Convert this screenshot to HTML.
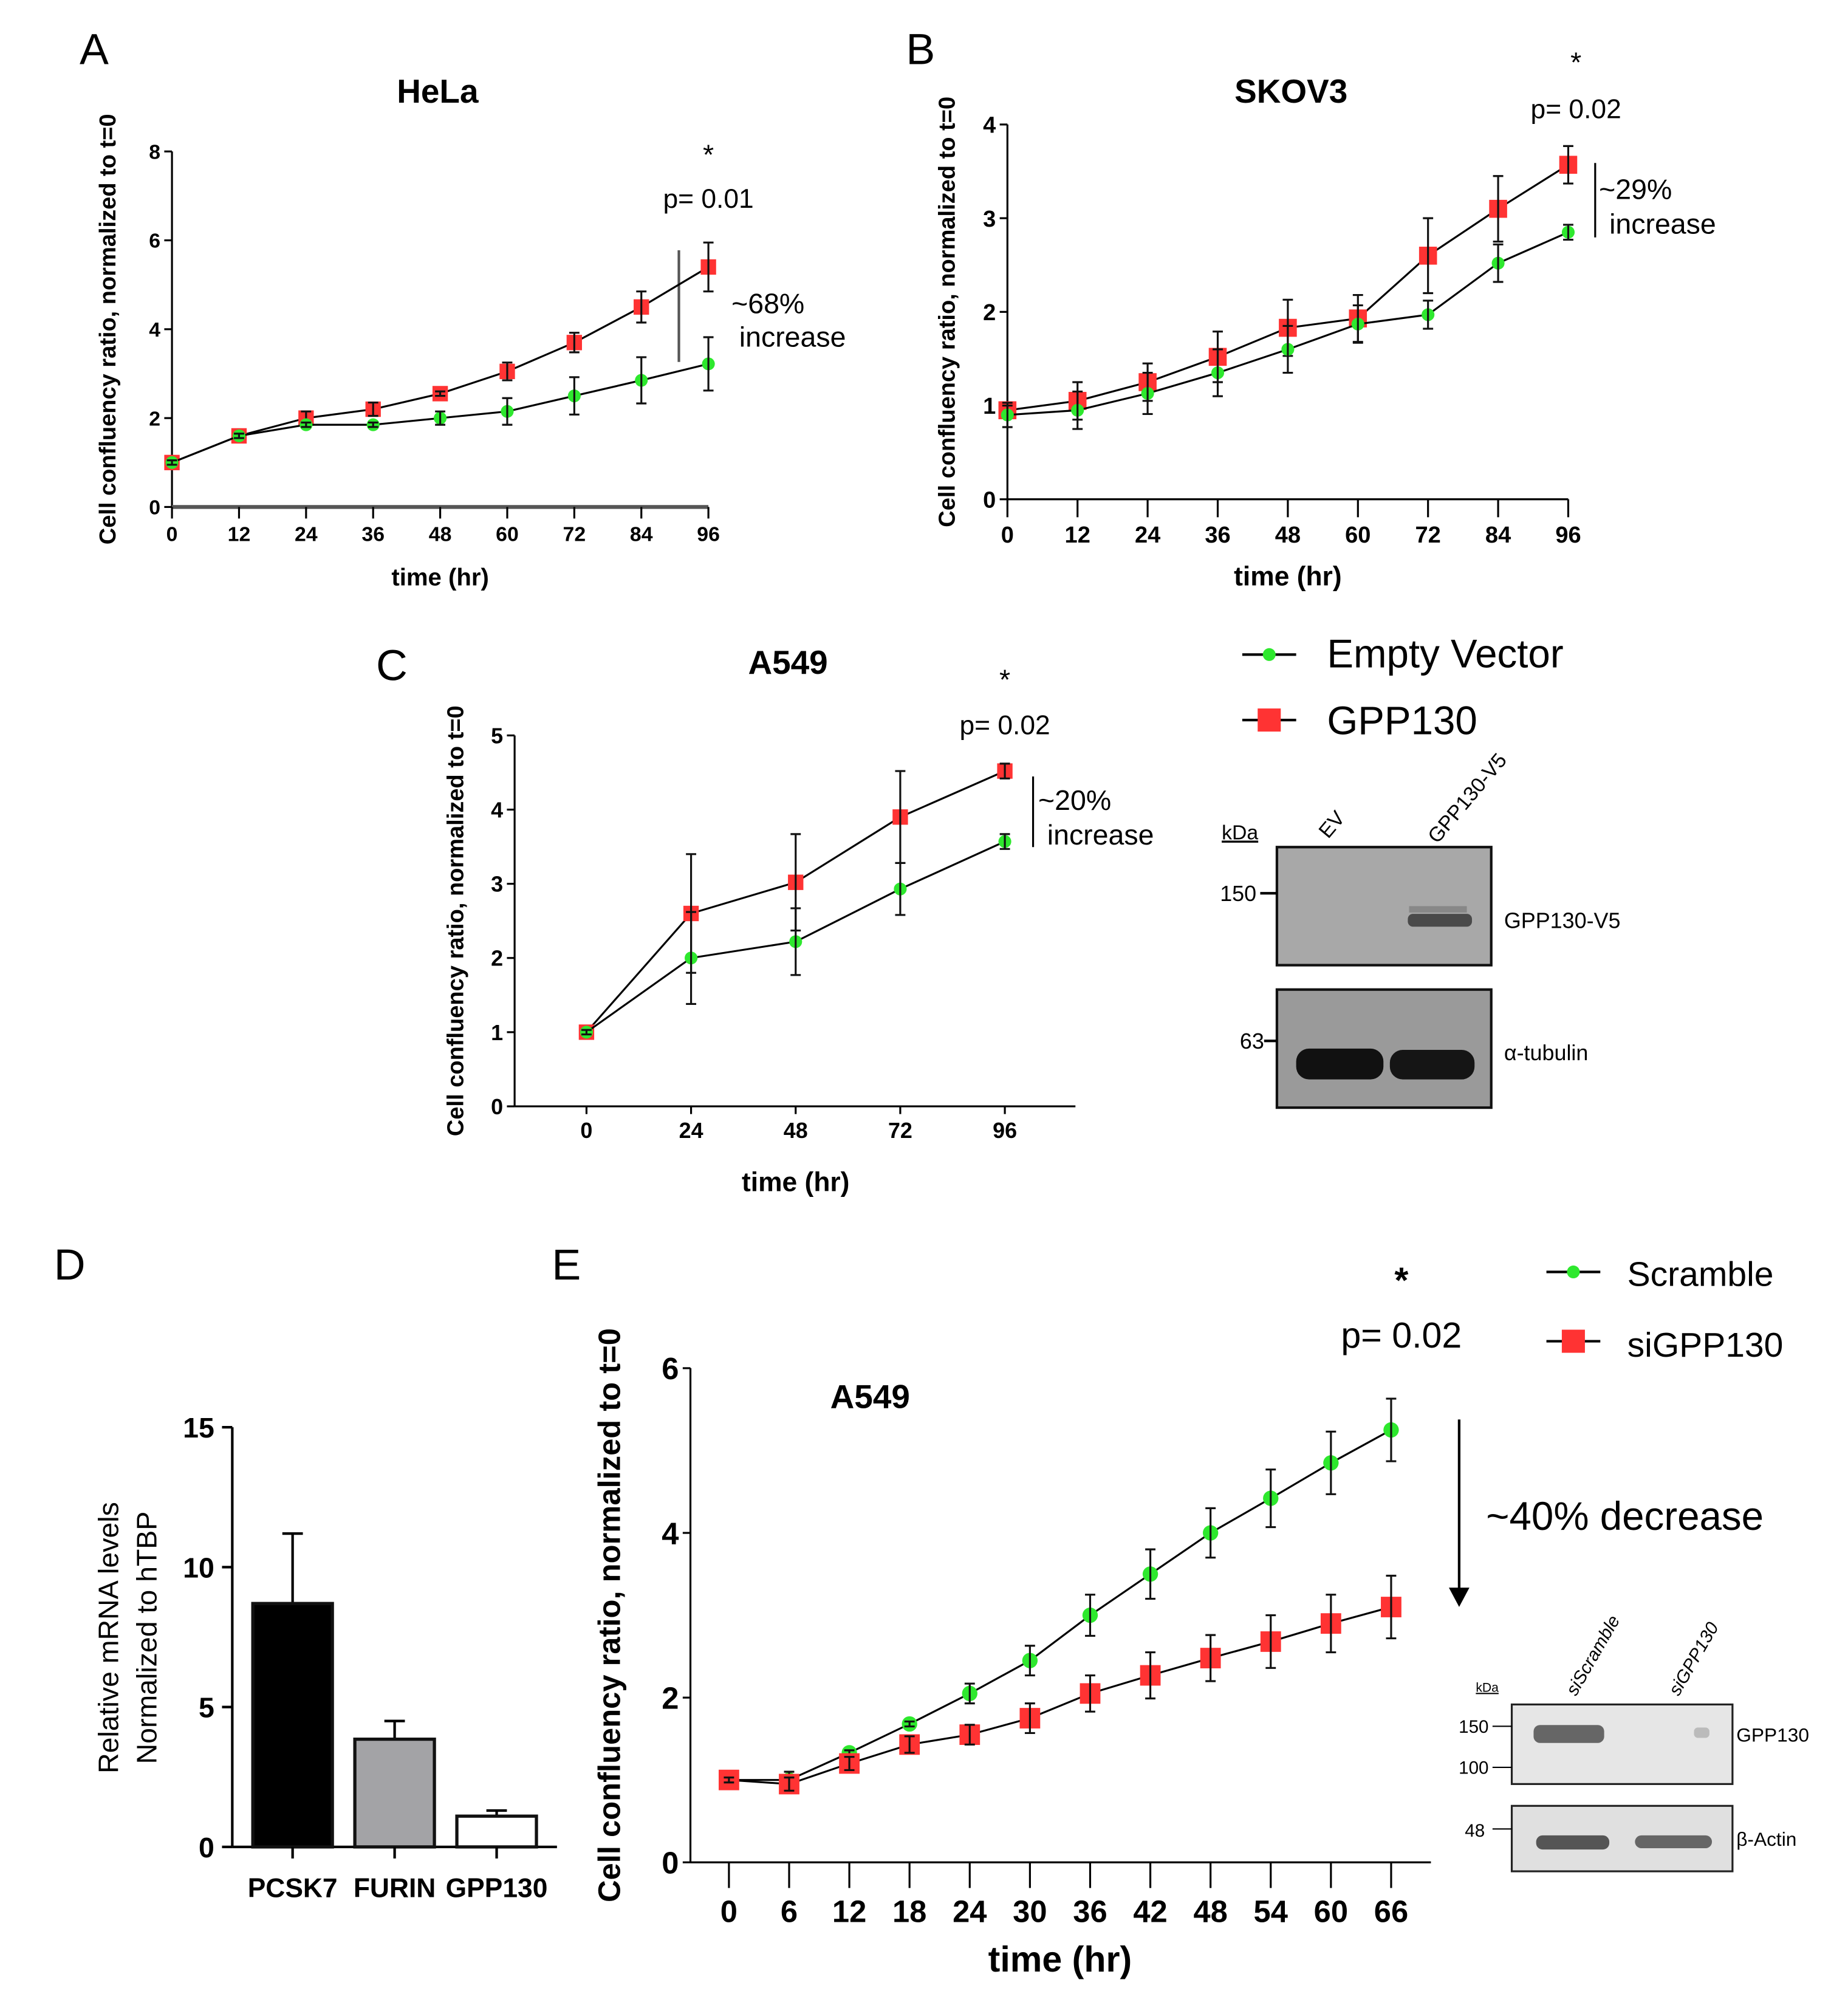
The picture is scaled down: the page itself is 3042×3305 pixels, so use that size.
<!DOCTYPE html>
<html><head><meta charset="utf-8"><style>
html,body{margin:0;padding:0;background:#fff}
svg{display:block}
text{font-family:"Liberation Sans Narrow","Liberation Sans",sans-serif;fill:#000}
.b{font-weight:bold}
.w{font-family:"Liberation Sans",sans-serif}
</style></head><body>
<svg id="fig" xmlns="http://www.w3.org/2000/svg" width="3042" height="3305" viewBox="0 0 1440 1564.5">
<rect width="1440" height="1564.5" fill="#fff"/>
<g id="static">
<text x="62" y="50" font-size="34" class="w">A</text>
<text x="706" y="50" font-size="34" class="w">B</text>
<text x="293" y="530" font-size="34" class="w">C</text>
<text x="42" y="997" font-size="34" class="w">D</text>
<text x="430" y="997" font-size="34" class="w">E</text>

<text x="341" y="80" font-size="26" class="b" text-anchor="middle">HeLa</text>
<text x="1006" y="80" font-size="26" class="b" text-anchor="middle">SKOV3</text>
<text x="614" y="525" font-size="26" class="b" text-anchor="middle">A549</text>
<text x="678" y="1097" font-size="26" class="b" text-anchor="middle">A549</text>

<text x="552" y="128" font-size="22" text-anchor="middle">*</text>
<text x="552" y="162" font-size="21" text-anchor="middle">p= 0.01</text>
<line x1="529" y1="195" x2="529" y2="282" stroke="#555" stroke-width="2"/>
<text x="570" y="244" font-size="22" class="w">~68%</text>
<text x="576" y="270" font-size="22" class="w">increase</text>
<text x="1228" y="56" font-size="22" text-anchor="middle">*</text>
<text x="1228" y="92" font-size="21" text-anchor="middle">p= 0.02</text>
<line x1="1243" y1="127" x2="1243" y2="185" stroke="#000" stroke-width="1.5"/>
<text x="1246" y="155" font-size="22" class="w">~29%</text>
<text x="1254" y="182" font-size="22" class="w">increase</text>
<text x="783" y="537" font-size="22" text-anchor="middle">*</text>
<text x="783" y="572" font-size="21" text-anchor="middle">p= 0.02</text>
<line x1="805" y1="605" x2="805" y2="660" stroke="#000" stroke-width="1.5"/>
<text x="809" y="631" font-size="22" class="w">~20%</text>
<text x="816" y="658" font-size="22" class="w">increase</text>

<g>
<line x1="968" y1="510" x2="1010" y2="510" stroke="#000" stroke-width="2"/><circle cx="989" cy="510" r="5" fill="#2ee82e"/>
<text x="1034" y="520" font-size="31" class="w">Empty Vector</text></g>
<g>
<line x1="968" y1="561" x2="1010" y2="561" stroke="#000" stroke-width="2"/><rect x="980" y="552" width="18" height="18" fill="#f33"/>
<text x="1034" y="572" font-size="31" class="w">GPP130</text></g>

<g>
<text x="952" y="654" font-size="16" text-decoration="underline">kDa</text>
<text x="1035" y="654" font-size="16" transform="rotate(-50 1035 654)">EV</text>
<text x="1120" y="658" font-size="16" transform="rotate(-50 1120 658)">GPP130-V5</text>
<rect x="995" y="660" width="167" height="92" fill="#a8a8a8" stroke="#111" stroke-width="2"/>
<rect x="1097" y="712" width="50" height="10" rx="4" fill="#3a3a3a" opacity="0.85"/>
<rect x="1098" y="706" width="45" height="5" fill="#888"/>
<text x="979" y="702" font-size="17" text-anchor="end">150</text>
<line x1="982" y1="696" x2="995" y2="696" stroke="#000" stroke-width="2"/>
<text x="1172" y="723" font-size="17">GPP130-V5</text>
<rect x="995" y="771" width="167" height="92" fill="#9a9a9a" stroke="#111" stroke-width="2"/>
<rect x="1010" y="817" width="68" height="24" rx="10" fill="#111"/>
<rect x="1083" y="818" width="66" height="23" rx="10" fill="#151515"/>
<text x="985" y="817" font-size="17" text-anchor="end">63</text>
<line x1="985" y1="811" x2="995" y2="811" stroke="#000" stroke-width="2"/>
<text x="1172" y="826" font-size="17">α-tubulin</text>
</g>

<text x="1092" y="1007" font-size="28" text-anchor="middle" class="b">*</text>
<text x="1092" y="1050" font-size="28" text-anchor="middle">p= 0.02</text>
<line x1="1137" y1="1106" x2="1137" y2="1240" stroke="#000" stroke-width="2"/>
<polygon points="1129,1237 1145,1237 1137,1252" fill="#000"/>
<text x="1158" y="1192" font-size="31" class="w">~40% decrease</text>
<g>
<line x1="1205" y1="991" x2="1247" y2="991" stroke="#000" stroke-width="2"/><circle cx="1226" cy="991" r="5" fill="#2ee82e"/>
<text x="1268" y="1002" font-size="27">Scramble</text></g>
<g>
<line x1="1205" y1="1045" x2="1247" y2="1045" stroke="#000" stroke-width="2"/><rect x="1217" y="1036" width="18" height="18" fill="#f33"/>
<text x="1268" y="1057" font-size="27">siGPP130</text></g>

<g>
<text x="1150" y="1318" font-size="10" text-decoration="underline">kDa</text>
<text x="1228" y="1322" font-size="14" font-style="italic" transform="rotate(-60 1228 1322)">siScramble</text>
<text x="1308" y="1322" font-size="14" font-style="italic" transform="rotate(-60 1308 1322)">siGPP130</text>
<rect x="1178" y="1328" width="172" height="62" fill="#e6e6e6" stroke="#222" stroke-width="1.5"/>
<rect x="1195" y="1344" width="55" height="14" rx="5" fill="#666"/>
<rect x="1320" y="1346" width="12" height="8" rx="3" fill="#bbb"/>
<text x="1160" y="1350" font-size="14" text-anchor="end">150</text><line x1="1163" y1="1345" x2="1178" y2="1345" stroke="#000"/>
<text x="1160" y="1382" font-size="14" text-anchor="end">100</text><line x1="1163" y1="1377" x2="1178" y2="1377" stroke="#000"/>
<text x="1353" y="1357" font-size="15">GPP130</text>
<rect x="1178" y="1407" width="172" height="51" fill="#e0e0e0" stroke="#222" stroke-width="1.5"/>
<rect x="1197" y="1430" width="57" height="11" rx="5" fill="#555"/>
<rect x="1274" y="1430" width="60" height="10" rx="5" fill="#666"/>
<text x="1157" y="1431" font-size="14" text-anchor="end">48</text><line x1="1163" y1="1425" x2="1178" y2="1425" stroke="#000"/>
<text x="1353" y="1438" font-size="15">β-Actin</text>
</g>
</g>
<g id="charts"></g>
</svg>
<script>
const hoursA = [0,12,24,36,48,60,72,84,96];
const helaGpp = [1.0,1.6,2.0,2.2,2.55,3.05,3.7,4.5,5.4];
const helaGppErr = [0.05,0.05,0.15,0.15,0.05,0.2,0.22,0.35,0.55];
const helaEv = [1.0,1.6,1.85,1.85,2.0,2.15,2.5,2.85,3.22];
const helaEvErr = [0.05,0.05,0.05,0.05,0.15,0.3,0.42,0.52,0.6];
const ticksYA = [0,2,4,6,8];
const hoursB = [0,12,24,36,48,60,72,84,96];
const skovGpp = [0.95,1.05,1.25,1.52,1.83,1.93,2.6,3.1,3.57];
const skovGppErr = [0.05,0.2,0.2,0.27,0.3,0.25,0.4,0.35,0.2];
const skovEv = [0.9,0.95,1.13,1.35,1.6,1.87,1.97,2.52,2.85];
const skovEvErr = [0.13,0.2,0.22,0.25,0.25,0.2,0.15,0.2,0.08];
const ticksYB = [0,1,2,3,4];
const hoursC = [0,24,48,72,96];
const a549Gpp = [1.0,2.6,3.02,3.9,4.52];
const a549GppErr = [0.03,0.8,0.65,0.62,0.1];
const a549Ev = [1.0,2.0,2.22,2.93,3.57];
const a549EvErr = [0.03,0.62,0.45,0.35,0.1];
const ticksYC = [0,1,2,3,4,5];
const genes = ["PCSK7","FURIN","GPP130"];
const mrna = [8.7,3.85,1.1];
const mrnaErr = [2.5,0.65,0.2];
const ticksYD = [0,5,10,15];
const hoursE = [0,6,12,18,24,30,36,42,48,54,60,66];
const scramble = [1.0,1.0,1.33,1.68,2.05,2.45,3.0,3.5,4.0,4.42,4.85,5.25];
const scrambleErr = [0.02,0.1,0.03,0.03,0.12,0.18,0.25,0.3,0.3,0.35,0.38,0.38];
const siGpp = [1.0,0.95,1.2,1.43,1.55,1.75,2.05,2.27,2.48,2.68,2.9,3.1];
const siGppErr = [0.03,0.08,0.08,0.1,0.12,0.18,0.22,0.28,0.28,0.32,0.35,0.38];
const ticksYE = [0,2,4,6];

const NS="http://www.w3.org/2000/svg";
const root=document.getElementById('charts');
function mk(tag,attrs,parent){const e=document.createElementNS(NS,tag);for(const k in attrs)e.setAttribute(k,attrs[k]);(parent||root).appendChild(e);return e;}
function scale(d0,d1,r0,r1){return v=>r0+(v-d0)/(d1-d0)*(r1-r0);}

function lineChart(o){
  const g=mk('g',{});
  
  
  const sx=scale(o.xd[0],o.xd[1],o.px0,o.px1), sy=scale(o.yd[0],o.yd[1],o.py0,o.py1);
  const sw=o.sw||1.5;
  mk('line',{x1:o.axL,y1:sy(o.yd[0]),x2:o.axL,y2:sy(o.yd[1]),stroke:'#000','stroke-width':sw},g);
  mk('line',{x1:o.axL,y1:sy(0),x2:o.axR,y2:sy(0),stroke:o.xAxisColor||'#000','stroke-width':o.xsw||sw},g);
  o.yticks.forEach(t=>{
    mk('line',{x1:o.axL-6,y1:sy(t),x2:o.axL,y2:sy(t),stroke:'#000','stroke-width':sw},g);
    const tx=mk('text',{x:o.axL-9,y:sy(t)+o.fs*0.36,'font-size':o.fs,'text-anchor':'end','class':'b'},g);
    tx.textContent=t;
    
    
  });
  o.x.forEach(t=>{
    mk('line',{x1:sx(t),y1:sy(0),x2:sx(t),y2:sy(0)+o.tickLen,stroke:'#000','stroke-width':sw},g);
    const tx=mk('text',{x:sx(t),y:sy(0)+o.tickLen+o.fs*1.1,'font-size':o.fs,'text-anchor':'middle','class':'b'},g);
    tx.textContent=t;
    
    
  });
  const xt=mk('text',{x:(o.px0+o.px1)/2,y:o.xtY,'font-size':o.tfs,'text-anchor':'middle','class':'b'},g);
  xt.textContent='time (hr)';
  
  
  const yt=mk('text',{x:0,y:0,'font-size':o.yfs,'text-anchor':'middle','class':'b w',transform:`translate(${o.ytX},${(sy(o.yd[0])+sy(o.yd[1]))/2+(o.ytDy||0)}) rotate(-90)`},g);
  yt.textContent='Cell confluency ratio, normalized to t=0';
  
  
  o.series.forEach(s=>{
    const sg=mk('g',{},g);
    
    
    mk('polyline',{points:o.x.map((t,i)=>sx(t)+','+sy(s.v[i])).join(' '),fill:'none',stroke:'#000','stroke-width':1.5},sg);
    o.x.forEach((t,i)=>{
      const cx=sx(t),cy=sy(s.v[i]);
      if(s.sq){const h=o.sq;const r=mk('rect',{x:cx-h,y:cy-h,width:2*h,height:2*h,fill:'#f33'},sg);
        
        }
      else{const c=mk('circle',{cx:cx,cy:cy,r:o.cr,fill:'#2ee82e'},sg);
        
        }
      const e=s.e[i]; if(e>0.02){const y1=sy(s.v[i]+e),y2=sy(s.v[i]-e),w=4;
        mk('path',{d:`M${cx},${y1}V${y2}M${cx-w},${y1}H${cx+w}M${cx-w},${y2}H${cx+w}`,stroke:'#111','stroke-width':1.5,fill:'none'},sg);}
    });
  });
}
lineChart({name:'hela-chart',x:hoursA,xd:[0,96],yd:[0,8],px0:134,px1:552,py0:395,py1:118,axL:134,axR:552,yticks:ticksYA,fs:16,tfs:19,yfs:18,tickLen:9,xtY:456,ytX:90,sq:6,cr:5,xAxisColor:'#555',xsw:3,
  series:[{name:'hela-gpp130',v:helaGpp,e:helaGppErr,sq:true},{name:'hela-empty-vector',v:helaEv,e:helaEvErr}]});
lineChart({name:'skov3-chart',x:hoursB,xd:[0,96],yd:[0,4],px0:785,px1:1222,py0:389,py1:97,axL:785,axR:1222,yticks:ticksYB,fs:18,tfs:21,yfs:18,tickLen:14,xtY:456,ytX:744,ytDy:0,sq:7,cr:5,
  series:[{name:'skov3-gpp130',v:skovGpp,e:skovGppErr,sq:true},{name:'skov3-empty-vector',v:skovEv,e:skovEvErr}]});
lineChart({name:'a549-chart-c',x:hoursC,xd:[0,96],yd:[0,5],px0:457,px1:783,py0:862,py1:573,axL:401,axR:838,yticks:ticksYC,fs:17,tfs:21,yfs:18,tickLen:6,xtY:928,ytX:361,sq:6,cr:5,
  series:[{name:'a549-gpp130',v:a549Gpp,e:a549GppErr,sq:true},{name:'a549-empty-vector',v:a549Ev,e:a549EvErr}]});
lineChart({name:'a549-chart-e',x:hoursE,xd:[0,66],yd:[0,6],px0:568,px1:1084,py0:1451,py1:1066,axL:538,axR:1115,yticks:ticksYE,fs:24,tfs:28,yfs:24,tickLen:20,xtY:1536,ytX:483,sq:8,cr:6,
  series:[{name:'scramble-series',v:scramble,e:scrambleErr},{name:'sigpp130-series',v:siGpp,e:siGppErr,sq:true}]});

(function(){
  const g=mk('g',{});
  
  
  const sy=scale(0,15,1439,1112); const ax=181, axR=434;
  const x0=197, bw=62, step=79.5;
  mk('line',{x1:ax,y1:sy(0),x2:ax,y2:sy(15),stroke:'#000','stroke-width':2},g);
  mk('line',{x1:ax,y1:sy(0),x2:axR,y2:sy(0),stroke:'#000','stroke-width':2},g);
  ticksYD.forEach(t=>{mk('line',{x1:ax-8,y1:sy(t),x2:ax,y2:sy(t),stroke:'#000','stroke-width':2},g);
    const tx=mk('text',{x:ax-14,y:sy(t)+8,'font-size':22,'text-anchor':'end','class':'b w'},g);tx.textContent=t;
    
    });
  const fills=['#000','#a3a3a6','#fff'];
  genes.forEach((n,i)=>{const x=x0+i*step, cx=x+bw/2;
    mk('line',{x1:cx,y1:sy(mrna[i]+mrnaErr[i]),x2:cx,y2:sy(mrna[i]),stroke:'#000','stroke-width':2},g);
    mk('line',{x1:cx-8,y1:sy(mrna[i]+mrnaErr[i]),x2:cx+8,y2:sy(mrna[i]+mrnaErr[i]),stroke:'#000','stroke-width':2},g);
    const r=mk('rect',{x:x,y:sy(mrna[i]),width:bw,height:sy(0)-sy(mrna[i]),fill:fills[i],stroke:'#111','stroke-width':2.5},g);
    
    
    mk('line',{x1:cx,y1:sy(0),x2:cx,y2:sy(0)+9,stroke:'#000','stroke-width':2},g);
    const tx=mk('text',{x:cx,y:1478,'font-size':21,'text-anchor':'middle','class':'b w'},g);tx.textContent=n;
    
    });
  const t1=mk('text',{x:0,y:0,'font-size':22,'text-anchor':'middle',transform:'translate(92,1276) rotate(-90)'},g);t1.textContent='Relative mRNA levels';
  
  
  const t2=mk('text',{x:0,y:0,'font-size':22,'text-anchor':'middle',transform:'translate(122,1276) rotate(-90)'},g);t2.textContent='Normalized to hTBP';
  
  
})();
</script>
</body></html>
